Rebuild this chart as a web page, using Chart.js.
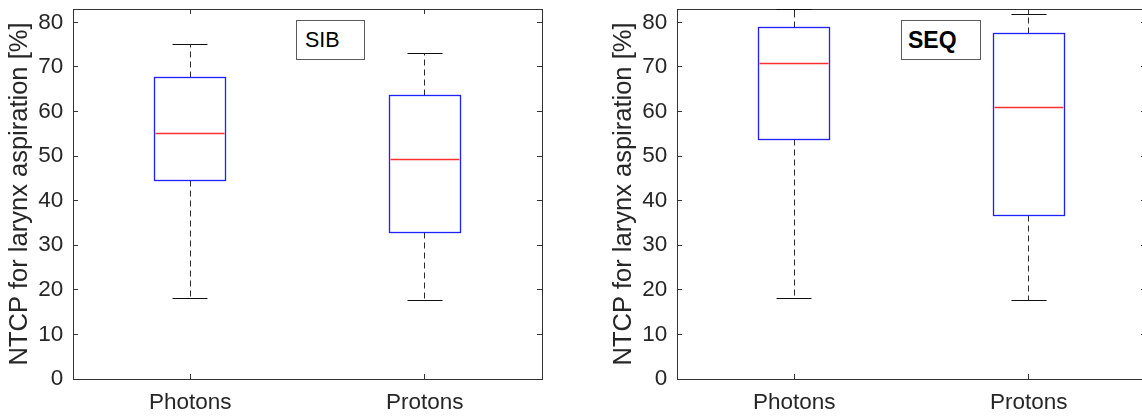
<!DOCTYPE html>
<html>
<head>
<meta charset="utf-8">
<script src="https://cdn.jsdelivr.net/npm/chart.js@4.4.1/dist/chart.umd.min.js"></script>
<style>
  html, body { margin: 0; padding: 0; background: #fff; width: 1142px; height: 416px; overflow: hidden; position: relative; }
  .panel { position: absolute; top: 0; width: 571px; height: 416px; }
  .tag { position: absolute; box-sizing: border-box; top: 20px; height: 40px; border: 1px solid #5a5a5a;
         background: #fff; color: #000; font-family: "Liberation Sans", Arial, sans-serif; line-height: 38px; white-space: nowrap; }
</style>
</head>
<body>
<div class="panel" style="left:0"><canvas id="sib" width="571" height="416"></canvas></div>
<div class="panel" style="left:604px"><canvas id="seq" width="571" height="416"></canvas></div>
<div class="tag" style="left:296px;width:69px;padding-left:8px;font-size:21.5px">SIB</div>
<div class="tag" style="left:901px;width:80px;padding-left:6px;font-size:23px;font-weight:bold">SEQ</div>

<script>
// Groups and axis ticks
const categories = ['Photons', 'Protons'];
const yTicks = [0, 10, 20, 30, 40, 50, 60, 70, 80];
const yLabel = 'NTCP for larynx aspiration [%]';

// SIB plan: box-plot statistics per group (lower whisker, Q1, median, Q3, upper whisker)
const sibLow  = [18.1, 17.6];
const sibQ1   = [44.5, 32.9];
const sibMed  = [55.0, 49.2];
const sibQ3   = [67.6, 63.5];
const sibHigh = [75.0, 73.0];

// SEQ plan
const seqLow  = [18.1, 17.6];
const seqQ1   = [53.7, 36.6];
const seqMed  = [70.7, 61.0];
const seqQ3   = [78.9, 77.6];
const seqHigh = [82.8, 81.7];

const FONT = '"Liberation Sans", Arial, Helvetica, sans-serif';
const AXIS = '#333333';
const TEXT = '#262626';

// Draws the box, median, dashed whiskers and caps through the chart's scales
const boxPlugin = {
  id: 'boxes',
  afterDatasetsDraw(chart, args, o) {
    const { ctx, scales: { x, y } } = chart;
    const snap = v => Math.round(v - 0.5) + 0.5;
    const seg = (x1, y1, x2, y2) => { ctx.beginPath(); ctx.moveTo(x1, y1); ctx.lineTo(x2, y2); ctx.stroke(); };
    ctx.save();
    o.low.forEach((lo, i) => {
      const c = i + 1;
      const cx = snap(x.getPixelForValue(c));
      const bl = snap(x.getPixelForValue(c - o.boxHalf));
      const br = snap(x.getPixelForValue(c + o.boxHalf));
      const cl = snap(x.getPixelForValue(c - o.capHalf));
      const cr = snap(x.getPixelForValue(c + o.capHalf));
      const pLo = snap(y.getPixelForValue(lo));
      const pQ1 = snap(y.getPixelForValue(o.q1[i]));
      const pMed = snap(y.getPixelForValue(o.med[i]));
      const pQ3 = snap(y.getPixelForValue(o.q3[i]));
      const pHi = snap(y.getPixelForValue(o.high[i]));

      ctx.lineWidth = 1;
      ctx.strokeStyle = '#2a2a2a';
      ctx.setLineDash([6, 4]);
      seg(cx, pQ3, cx, pHi);
      seg(cx, pQ1, cx, pLo);
      ctx.setLineDash([]);
      ctx.strokeStyle = '#111';
      seg(cl, pHi, cr, pHi);
      seg(cl, pLo, cr, pLo);

      ctx.lineWidth = 1.3;
      ctx.strokeStyle = '#1f1fff';
      ctx.strokeRect(bl, pQ3, br - bl, pQ1 - pQ3);
      ctx.lineWidth = 1.5;
      ctx.strokeStyle = '#ff3030';
      seg(bl + 1, pMed, br - 1, pMed);
    });
    ctx.restore();
  }
};

function makeChart(id, stats) {
  const zeroPad = s => { s.paddingLeft = 0; s.paddingRight = 0; s.paddingTop = 0; s.paddingBottom = 0; };
  const fixW = w => s => { s.width = w; zeroPad(s); };
  const fixH = h => s => { s.height = h; zeroPad(s); };
  const catTicks = s => { s.ticks = categories.map((_, i) => ({ value: i + 1 })); };
  const numTicks = s => { s.ticks = yTicks.map(v => ({ value: v })); };
  const frame = () => ({ drawOnChartArea: false, drawTicks: true, tickLength: -5, color: AXIS, lineWidth: 1 });
  const border = () => ({ display: true, color: AXIS, width: 1 });

  return new Chart(document.getElementById(id), {
    type: 'scatter',
    data: { datasets: [] },
    options: {
      responsive: false,
      animation: false,
      devicePixelRatio: 1,
      layout: { padding: { left: 0, top: 9, right: 29, bottom: 0 } },
      plugins: {
        legend: { display: false },
        tooltip: { enabled: false },
        boxes: Object.assign({ boxHalf: 0.151, capHalf: 0.075 }, stats)
      },
      scales: {
        x: {
          type: 'linear', position: 'bottom', min: 0.5, max: 2.5,
          afterBuildTicks: catTicks, afterFit: fixH(37),
          grid: frame(), border: border(),
          ticks: { padding: 15, color: TEXT, font: { family: FONT, size: 22.5 }, autoSkip: false, maxRotation: 0,
                   callback: v => categories[Math.round(v) - 1] || '' }
        },
        xTop: {
          type: 'linear', position: 'top', min: 0.5, max: 2.5,
          afterBuildTicks: catTicks, afterFit: fixH(0),
          grid: frame(), border: border(), ticks: { display: false }
        },
        y: {
          type: 'linear', position: 'left', min: 0, max: 83,
          afterBuildTicks: numTicks, afterFit: fixW(73),
          grid: frame(), border: border(),
          ticks: { padding: 14.7, color: TEXT, font: { family: FONT, size: 22.5 }, callback: v => String(v) },
          title: { display: true, text: yLabel, color: TEXT, font: { family: FONT, size: 25.5 }, padding: { top: 4.7, bottom: 0 } }
        },
        yRight: {
          type: 'linear', position: 'right', min: 0, max: 83,
          afterBuildTicks: numTicks, afterFit: fixW(0),
          grid: frame(), border: border(), ticks: { display: false }
        }
      }
    },
    plugins: [boxPlugin]
  });
}

makeChart('sib', { low: sibLow, q1: sibQ1, med: sibMed, q3: sibQ3, high: sibHigh });
makeChart('seq', { low: seqLow, q1: seqQ1, med: seqMed, q3: seqQ3, high: seqHigh });
</script>
</body>
</html>
